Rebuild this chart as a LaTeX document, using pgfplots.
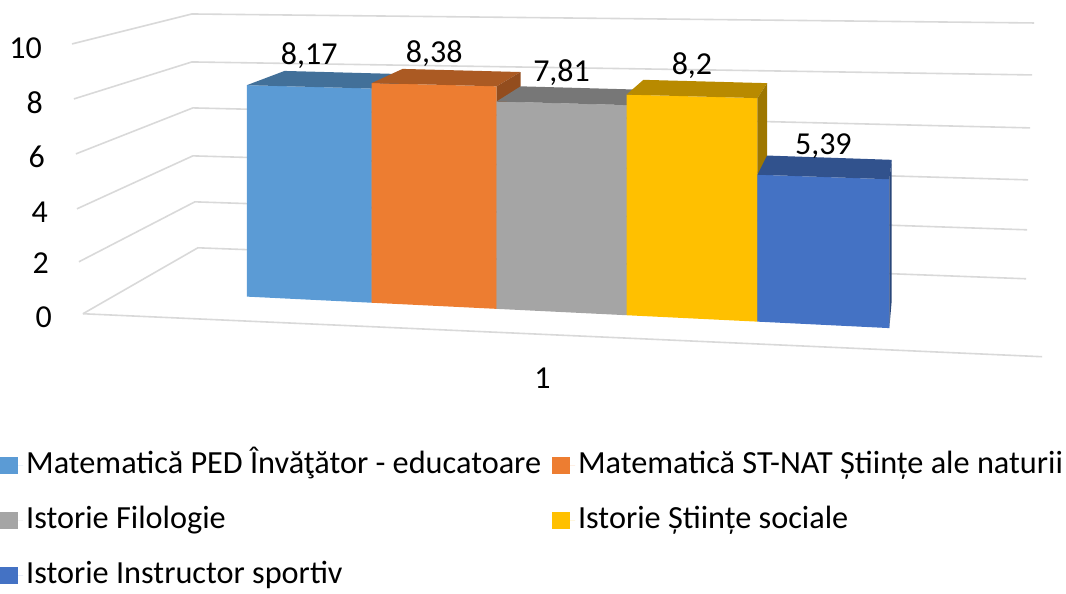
\documentclass[border=0pt]{standalone}
\usepackage{fontspec}
\setmainfont{Carlito}
\usepackage{pgfplots}
\pgfplotsset{compat=1.18}
\definecolor{cA}{HTML}{5B9BD5}
\definecolor{cB}{HTML}{ED7D31}
\definecolor{cC}{HTML}{A5A5A5}
\definecolor{cD}{HTML}{FFC000}
\definecolor{cE}{HTML}{4472C4}
\definecolor{gridc}{HTML}{D9D9D9}
\newcommand\F{\fontsize{32}{38}\selectfont}
\newcommand\FL{\fontsize{32.3}{39}\selectfont}
% front plane of the bars (x in px, value v) and depth d (0 front, 1 back of bar)
\pgfmathdeclarefunction{fy}{2}{\pgfmathparse{-(297+0.049*(#1-250))+#2*(25.9+0.0027*(#1-247))}}
\newcommand\PX{\thisrow{x}+\thisrow{d}*0.055*(934-\thisrow{x})}
\newcommand\PY{fy(\thisrow{x},\thisrow{v})+\thisrow{d}*0.055*(174-fy(\thisrow{x},\thisrow{v}))}
% one 3-D bar: left x, right x, value, colour
\newcommand\barthree[4]{%
\addplot[fill=#4, draw=none] table[row sep=\\, x expr=\PX, y expr=\PY]{x v d\\#1 0 0\\#2 0 0\\#2 #3 0\\#1 #3 0\\};
\addplot[fill=#4!72!black, draw=none, forget plot] table[row sep=\\, x expr=\PX, y expr=\PY]{x v d\\#1 #3 0\\#2 #3 0\\#2 #3 1\\#1 #3 1\\};
\addplot[fill=#4!62!black, draw=none, forget plot] table[row sep=\\, x expr=\PX, y expr=\PY]{x v d\\#2 0 0\\#2 #3 0\\#2 #3 1\\#2 0 1\\};
}
\begin{document}
\begin{tikzpicture}
\begin{axis}[
  scale only axis, width=1066pt, height=590pt,
  xmin=0, xmax=1066, ymin=-590, ymax=0,
  axis lines=none, no markers,
  legend columns=2,
  legend cell align=left,
  legend image code/.code={\fill[#1] (0pt,-8.5pt) rectangle (18pt,8.5pt); \path (18pt,0pt) -- (23pt,0pt);},
  legend style={draw=none, fill=none, font=\FL, at={(axis cs:0,-448)}, anchor=north west,
    inner sep=0pt, row sep=19pt,
    nodes={inner sep=3pt, text height=23pt, text depth=7pt},
    /tikz/every even column/.append style={column sep=8pt}},
]
% walls and floor
\addplot[gridc, line width=1.6pt, forget plot] coordinates {(72,-44) (192,-14) (1035,-23)};
\addplot[gridc, line width=1.6pt, forget plot] coordinates {(74,-99) (192,-62) (1033,-75)};
\addplot[gridc, line width=1.6pt, forget plot] coordinates {(76,-154) (193,-108) (1031,-128)};
\addplot[gridc, line width=1.6pt, forget plot] coordinates {(77,-209) (193,-156) (1029,-180)};
\addplot[gridc, line width=1.6pt, forget plot] coordinates {(79,-262) (195,-202) (1028,-230)};
\addplot[gridc, line width=1.6pt, forget plot] coordinates {(83,-314) (198,-248) (1027,-279)};
\addplot[gridc, line width=1.6pt, forget plot] coordinates {(83,-314) (1043,-357)};
% bars
\barthree{247}{372}{8.17}{cA}
\barthree{372}{497}{8.38}{cB}
\barthree{497}{627}{7.81}{cC}
\barthree{627}{758}{8.2}{cD}
\barthree{758}{890}{5.39}{cE}
% value labels
\addplot[draw=none, forget plot, nodes near coords={\pgfmathprintnumber[use comma, assume math mode=true]{\pgfplotspointmeta}},
  point meta=explicit,
  every node near coord/.append style={font=\F, anchor=center, yshift=31pt, text=black}]
  table[row sep=\\, x=x, y expr={fy(\thisrow{x},\thisrow{v})}, meta=v]{x v\\309.5 8.17\\434.5 8.38\\562 7.81\\692.5 8.2\\824 5.39\\};
% axis numbers and category
\node[anchor=east, font=\F, inner sep=0pt] at (axis cs:42,-48) {10};
\node[anchor=east, font=\F, inner sep=0pt] at (axis cs:43,-103) {8};
\node[anchor=east, font=\F, inner sep=0pt] at (axis cs:45,-157) {6};
\node[anchor=east, font=\F, inner sep=0pt] at (axis cs:48,-212) {4};
\node[anchor=east, font=\F, inner sep=0pt] at (axis cs:49,-263) {2};
\node[anchor=east, font=\F, inner sep=0pt] at (axis cs:52,-317) {0};
\node[font=\F, inner sep=0pt] at (axis cs:543,-379) {1};
\legend{Matematică PED Învăţător - educatoare, Matematică ST-NAT Științe ale naturii, Istorie Filologie, Istorie Științe sociale, Istorie Instructor sportiv}
\end{axis}
\path (current axis.south west) rectangle (current axis.north east);
\end{tikzpicture}
\end{document}
